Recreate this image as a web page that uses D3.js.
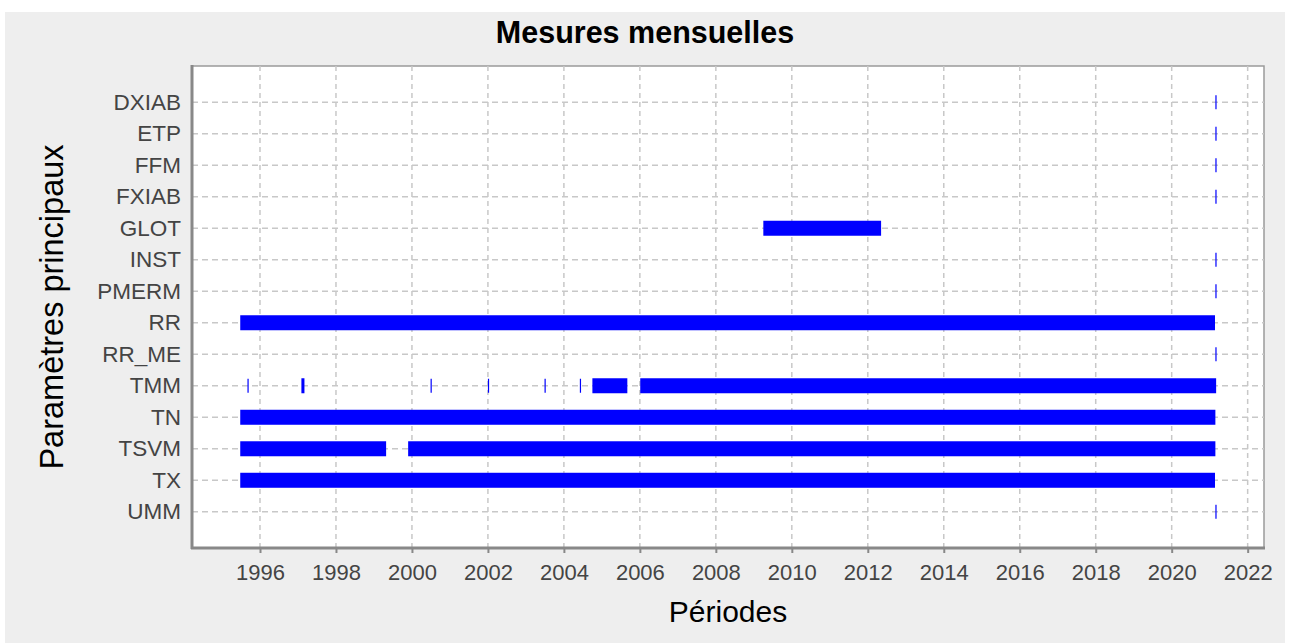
<!DOCTYPE html>
<html>
<head>
<meta charset="utf-8">
<script src="https://cdn.jsdelivr.net/npm/d3@7"></script>
<style>
  body { margin: 0; background: #fff; }
  text { font-family: "Liberation Sans", Arial, sans-serif; }
</style>
</head>
<body>
<div id="chart"></div>
<script>
// parameters shown on the y axis, top to bottom
var params = ['DXIAB', 'ETP', 'FFM', 'FXIAB', 'GLOT', 'INST', 'PMERM', 'RR', 'RR_ME', 'TMM', 'TN', 'TSVM', 'TX', 'UMM'];

// measured periods per parameter, [start, end] in decimal years
var dxiab = [[2021.15, 2021.15]];
var etp = [[2021.15, 2021.15]];
var ffm = [[2021.15, 2021.15]];
var fxiab = [[2021.15, 2021.15]];
var glot = [[2009.25, 2012.35]];
var inst = [[2021.15, 2021.15]];
var pmerm = [[2021.15, 2021.15]];
var rr = [[1995.48, 2021.14]];
var rrMe = [[2021.15, 2021.15]];
var tmm = [[1995.67, 1995.67], [1997.09, 1997.17], [2000.49, 2000.49], [2002.0, 2002.0],
           [2003.49, 2003.49], [2004.42, 2004.42], [2004.75, 2005.67], [2006.01, 2021.17]];
var tn = [[1995.48, 2021.15]];
var tsvm = [[1995.48, 1999.32], [1999.9, 2021.15]];
var tx = [[1995.48, 2021.14]];
var umm = [[2021.15, 2021.15]];

var periods = [dxiab, etp, ffm, fxiab, glot, inst, pmerm, rr, rrMe, tmm, tn, tsvm, tx, umm];

var xTicks = d3.range(1996, 2023, 2);

var W = 1289, H = 644;
var mLeft = 192, mRight = 1264, mTop = 66, mBottom = 548;

var svg = d3.select('#chart').append('svg')
  .attr('width', W)
  .attr('height', H);

svg.append('rect')
  .attr('x', 5).attr('y', 12)
  .attr('width', 1280).attr('height', 631)
  .attr('fill', '#eeeeee');

svg.append('rect')
  .attr('x', mLeft).attr('y', mTop)
  .attr('width', mRight - mLeft).attr('height', mBottom - mTop)
  .attr('fill', '#fff')
  .attr('stroke', '#9a9a9a')
  .attr('stroke-width', 1.5);

var x = d3.scaleLinear()
  .domain([1994.21, 2022.43])
  .range([mLeft, mRight]);

var y = d3.scalePoint()
  .domain(params)
  .range([mTop, mBottom])
  .padding(1.15);

// grid
var grid = svg.append('g');
grid.selectAll('.vg')
  .data(xTicks)
  .enter().append('line')
  .attr('x1', (d) => x(d)).attr('x2', (d) => x(d))
  .attr('y1', mTop).attr('y2', mBottom)
  .attr('stroke', '#c8c8c8')
  .attr('stroke-width', 1.5)
  .attr('stroke-dasharray', '5,4');

grid.selectAll('.hg')
  .data(params)
  .enter().append('line')
  .attr('x1', mLeft).attr('x2', mRight)
  .attr('y1', (d) => y(d)).attr('y2', (d) => y(d))
  .attr('stroke', '#c8c8c8')
  .attr('stroke-width', 1.5)
  .attr('stroke-dasharray', '6,4');

// bars
var rows = svg.append('g').selectAll('.row')
  .data(params)
  .enter().append('g')
  .attr('class', 'row');

rows.selectAll('rect')
  .data((d, i) => periods[i].map((p) => ({ name: d, p: p })))
  .enter().append('rect')
  .attr('x', (d) => x(d.p[0]))
  .attr('y', (d) => y(d.name) - (d.p[1] > d.p[0] ? 7.5 : 7))
  .attr('width', (d) => Math.max(1.2, x(d.p[1]) - x(d.p[0])))
  .attr('height', (d) => d.p[1] > d.p[0] ? 15 : 14)
  .attr('fill', '#0000ff');

// axes
var xAxis = svg.append('g')
  .attr('transform', 'translate(0,' + mBottom + ')')
  .call(d3.axisBottom(x).tickValues(xTicks).tickFormat(d3.format('d')).tickSize(5).tickPadding(11));
xAxis.select('.domain').remove();
xAxis.selectAll('.tick line').attr('stroke', '#888').attr('stroke-width', 2);
xAxis.selectAll('.tick text')
  .attr('fill', '#444')
  .style('font-size', '22px')
  .style('font-family', '"Liberation Sans", Arial, sans-serif');

var yAxis = svg.append('g')
  .attr('transform', 'translate(' + mLeft + ',0)')
  .call(d3.axisLeft(y).tickSize(0).tickPadding(11));
yAxis.select('.domain').remove();
yAxis.selectAll('.tick text')
  .attr('fill', '#444')
  .style('font-size', '22.5px')
  .style('font-family', '"Liberation Sans", Arial, sans-serif');

svg.append('line')
  .attr('x1', mLeft).attr('x2', mLeft)
  .attr('y1', mTop - 1).attr('y2', mBottom + 1)
  .attr('stroke', '#888').attr('stroke-width', 3);
svg.append('line')
  .attr('x1', mLeft - 1).attr('x2', mRight + 1)
  .attr('y1', mBottom).attr('y2', mBottom)
  .attr('stroke', '#888').attr('stroke-width', 3);

// titles
svg.append('text')
  .attr('x', 645).attr('y', 43)
  .attr('text-anchor', 'middle')
  .style('font-size', '30.5px')
  .style('font-weight', 'bold')
  .text('Mesures mensuelles');

svg.append('text')
  .attr('x', (mLeft + mRight) / 2).attr('y', 622)
  .attr('text-anchor', 'middle')
  .style('font-size', '30px')
  .text('Périodes');

svg.append('text')
  .attr('transform', 'translate(63,' + ((mTop + mBottom) / 2) + ') rotate(-90)')
  .attr('text-anchor', 'middle')
  .style('font-size', '32.5px')
  .text('Paramètres principaux');
</script>
</body>
</html>
